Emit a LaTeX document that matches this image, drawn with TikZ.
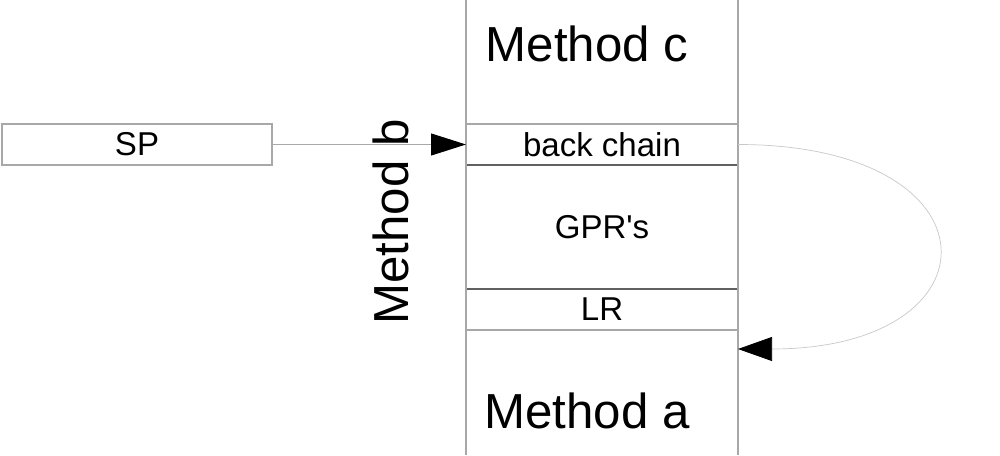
\documentclass[tikz,border=0pt]{standalone}
\usepackage{fontspec}
\setmainfont{Liberation Sans}[Ligatures=TeXOff]
\usepackage{tikz}
\usetikzlibrary{arrows.meta,positioning}
\definecolor{framegray}{HTML}{A8A8A8}
\definecolor{rulegray}{HTML}{606060}
\definecolor{curvegray}{HTML}{C8C8C8}

\begin{document}
\begin{tikzpicture}[
  x=0.2mm, y=0.2mm,
  every node/.style={font=\fontsize{18.8}{22}\selectfont, inner sep=0pt},
  cell/.style={draw=framegray, line width=0.6pt, outer sep=0pt, minimum width=54.4mm, minimum height=8.2mm},
  regs/.style={cell, draw=rulegray, minimum height=24.8mm},
  big/.style={font=\fontsize{28}{32}\selectfont, anchor=base},
  frame/.style={draw=framegray, line width=0.6pt},
  ptr/.style={-{Triangle[length=7mm, width=4.4mm, black]}, line width=0.6pt, draw=framegray},
  ret/.style={-{Triangle[length=6.8mm, width=4.8mm, black]}, line width=0.4pt, draw=curvegray}
]
  \useasboundingbox (0,0) rectangle (1000,455);
  \coordinate (top) at (0,455);
  \coordinate (bot) at (0,0);
  \node[cell] (bc) at (602,310.5) {back chain};
  \node[cell, below=0mm of bc, yshift=-24.8mm] (lr) {LR};
  \node[regs, below=0mm of bc] (gpr) {GPR's};
  \draw[frame] (bc.west |- top) -- (bc.west |- bot);
  \draw[frame] (bc.east |- top) -- (bc.east |- bot);
  \node[big] (mc) at (587,393) {Method c};
  \node[big] (ma) at (587,27) {Method a};
  \node[big, rotate=90] (mb) at (408,233) {Method b};
  \node[cell, minimum width=54mm] (sp) at (137,310.5) {SP};
  \coordinate (back) at (bc.east |- 0,106);
  \draw[ptr] (sp) -- (bc);
  \draw[ret] (bc.east) .. controls +(265,0) and +(265,0) .. (back);
\end{tikzpicture}
\end{document}
